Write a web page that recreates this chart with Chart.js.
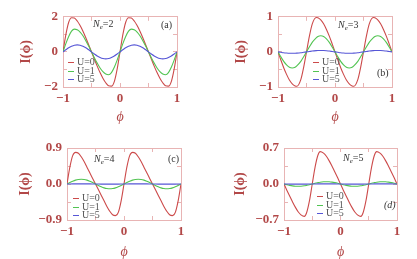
<!DOCTYPE html>
<html><head><meta charset="utf-8">
<script src="https://cdn.jsdelivr.net/npm/chart.js@4.4.1/dist/chart.umd.min.js"></script>
<style>
html,body{margin:0;padding:0;background:#fff;}
#wrap{position:relative;width:417px;height:259px;overflow:hidden;background:#fff;}
.pane{position:absolute;}
.pane canvas{display:block;}
.txt{position:absolute;font-family:"Liberation Serif","Times New Roman",serif;white-space:nowrap;line-height:1;color:#333;}
.leg{position:absolute;font-family:"Liberation Serif","Times New Roman",serif;font-size:10px;color:#555;}
.leg .row{height:8.5px;line-height:8.5px;position:relative;white-space:nowrap;}
.leg .sw{position:absolute;left:0;top:4px;width:6px;height:1.2px;}
.leg .lb{position:absolute;left:9px;top:0;}
sub{font-size:7px;vertical-align:-2px;line-height:0;}
</style></head><body><div id="wrap"></div>
<script>
// ---- data ----
const seriesNames = ['U=0','U=1','U=5'];
const xTicks = [-1,-0.5,0,0.5,1];
const xLabels = ['\u22121','','0','','1'];

const neValues = [2,3,4,5];
const panelTags = ['(a)','(b)','(c)','(d)'];

const yTicksA = [-2,-1,0,1,2];
const yLabelsA = ['\u22122','','0','','2'];
const yTicksB = [-1,-0.5,0,0.5,1];
const yLabelsB = ['\u22121','','0','','1'];
const yTicksC = [-0.9,-0.45,0,0.45,0.9];
const yLabelsC = ['\u22120.9','','0.0','','0.9'];
const yTicksD = [-0.7,-0.35,0,0.35,0.7];
const yLabelsD = ['\u22120.7','','0.0','','0.7'];

const phiA = [-1,-0.95,-0.9,-0.85,-0.8,-0.75,-0.7,-0.65,-0.6,-0.55,-0.5,-0.45,-0.4,-0.35,-0.3,-0.25,-0.2,-0.15,-0.1,-0.05,0,0.05,0.1,0.15,0.2,0.25,0.3,0.35,0.4,0.45,0.5,0.55,0.6,0.65,0.7,0.75,0.8,0.85,0.9,0.95,1];
const aU0 = [0,0.98,1.69,1.95,1.93,1.76,1.50,1.18,0.81,0.41,0,-0.41,-0.81,-1.18,-1.50,-1.76,-1.93,-1.95,-1.69,-0.98,0,0.98,1.69,1.95,1.93,1.76,1.50,1.18,0.81,0.41,0,-0.41,-0.81,-1.18,-1.50,-1.76,-1.93,-1.95,-1.69,-0.98,0];
const aU1 = [0,0.47,0.88,1.18,1.30,1.26,1.13,0.92,0.64,0.33,0,-0.33,-0.64,-0.92,-1.13,-1.26,-1.30,-1.18,-0.88,-0.47,0,0.47,0.88,1.18,1.30,1.26,1.13,0.92,0.64,0.33,0,-0.33,-0.64,-0.92,-1.13,-1.26,-1.30,-1.18,-0.88,-0.47,0];
const aU5 = [0,0.12,0.235,0.32,0.38,0.40,0.38,0.32,0.235,0.12,0,-0.12,-0.235,-0.32,-0.38,-0.40,-0.38,-0.32,-0.235,-0.12,0,0.12,0.235,0.32,0.38,0.40,0.38,0.32,0.235,0.12,0,-0.12,-0.235,-0.32,-0.38,-0.40,-0.38,-0.32,-0.235,-0.12,0];

const phiB = [-1,-0.95,-0.9,-0.85,-0.8,-0.75,-0.7,-0.67,-0.6,-0.55,-0.5,-0.45,-0.4,-0.33,-0.3,-0.25,-0.2,-0.15,-0.1,-0.05,0,0.05,0.1,0.15,0.2,0.25,0.3,0.33,0.4,0.45,0.5,0.55,0.6,0.67,0.7,0.75,0.8,0.85,0.9,0.95,1];
const bU0 = [0,-0.23,-0.45,-0.64,-0.80,-0.91,-0.97,-0.98,-0.79,-0.44,0,0.44,0.79,0.98,0.97,0.91,0.80,0.64,0.45,0.23,0,-0.23,-0.45,-0.64,-0.80,-0.91,-0.97,-0.98,-0.79,-0.44,0,0.44,0.79,0.98,0.97,0.91,0.80,0.64,0.45,0.23,0];
const bU1 = [0,-0.14,-0.27,-0.37,-0.44,-0.46,-0.44,-0.40,-0.27,-0.14,0,0.14,0.27,0.40,0.44,0.46,0.44,0.37,0.27,0.14,0,-0.14,-0.27,-0.37,-0.44,-0.46,-0.44,-0.40,-0.27,-0.14,0,0.14,0.27,0.40,0.44,0.46,0.44,0.37,0.27,0.14,0];
const bU5 = [0,-0.012,-0.024,-0.032,-0.038,-0.04,-0.038,-0.035,-0.024,-0.012,0,0.012,0.024,0.035,0.038,0.04,0.038,0.032,0.024,0.012,0,-0.012,-0.024,-0.032,-0.038,-0.04,-0.038,-0.035,-0.024,-0.012,0,0.012,0.024,0.035,0.038,0.04,0.038,0.032,0.024,0.012,0];

const phiC = [-1,-0.95,-0.9,-0.85,-0.8,-0.75,-0.7,-0.65,-0.6,-0.55,-0.5,-0.45,-0.4,-0.35,-0.3,-0.25,-0.2,-0.15,-0.1,-0.05,0,0.05,0.1,0.15,0.2,0.25,0.3,0.35,0.4,0.45,0.5,0.55,0.6,0.65,0.7,0.75,0.8,0.85,0.9,0.95,1];
const cU0 = [0,0.42,0.71,0.79,0.77,0.68,0.56,0.42,0.28,0.14,0,-0.14,-0.28,-0.42,-0.56,-0.68,-0.77,-0.79,-0.71,-0.42,0,0.42,0.71,0.79,0.77,0.68,0.56,0.42,0.28,0.14,0,-0.14,-0.28,-0.42,-0.56,-0.68,-0.77,-0.79,-0.71,-0.42,0];
const cU1 = [0,0.037,0.07,0.097,0.114,0.12,0.114,0.097,0.07,0.037,0,-0.037,-0.07,-0.097,-0.114,-0.12,-0.114,-0.097,-0.07,-0.037,0,0.037,0.07,0.097,0.114,0.12,0.114,0.097,0.07,0.037,0,-0.037,-0.07,-0.097,-0.114,-0.12,-0.114,-0.097,-0.07,-0.037,0];
const cU5 = [0,0.001,0.002,0.003,0.004,0.004,0.004,0.003,0.002,0.001,0,-0.001,-0.002,-0.003,-0.004,-0.004,-0.004,-0.003,-0.002,-0.001,0,0.001,0.002,0.003,0.004,0.004,0.004,0.003,0.002,0.001,0,-0.001,-0.002,-0.003,-0.004,-0.004,-0.004,-0.003,-0.002,-0.001,0];

const phiD = [-1,-0.95,-0.9,-0.85,-0.8,-0.75,-0.7,-0.64,-0.6,-0.55,-0.5,-0.45,-0.4,-0.36,-0.3,-0.25,-0.2,-0.15,-0.1,-0.05,0,0.05,0.1,0.15,0.2,0.25,0.3,0.36,0.4,0.45,0.5,0.55,0.6,0.64,0.7,0.75,0.8,0.85,0.9,0.95,1];
const dU0 = [0,-0.12,-0.235,-0.345,-0.45,-0.54,-0.60,-0.63,-0.56,-0.33,0,0.33,0.56,0.63,0.60,0.54,0.45,0.345,0.235,0.12,0,-0.12,-0.235,-0.345,-0.45,-0.54,-0.60,-0.63,-0.56,-0.33,0,0.33,0.56,0.63,0.60,0.54,0.45,0.345,0.235,0.12,0];
const dU1 = [0,-0.014,-0.026,-0.036,-0.043,-0.045,-0.043,-0.035,-0.026,-0.014,0,0.014,0.026,0.035,0.043,0.045,0.043,0.036,0.026,0.014,0,-0.014,-0.026,-0.036,-0.043,-0.045,-0.043,-0.035,-0.026,-0.014,0,0.014,0.026,0.035,0.043,0.045,0.043,0.036,0.026,0.014,0];
const dU5 = [0,-0.001,-0.002,-0.002,-0.003,-0.003,-0.003,-0.002,-0.002,-0.001,0,0.001,0.002,0.002,0.003,0.003,0.003,0.002,0.002,0.001,0,-0.001,-0.002,-0.002,-0.003,-0.003,-0.003,-0.002,-0.002,-0.001,0,0.001,0.002,0.002,0.003,0.003,0.003,0.002,0.002,0.001,0];

// ---- styling ----
const colors = ['#cc4a4a','#52c452','#5656d6'];
const frameColor = '#e8b4b4';
const axisTextColor = '#b24848';
const SERIF = '"Liberation Serif","Times New Roman",serif';

const wrap = document.getElementById('wrap');

const panels = [
  {left:0,top:0,w:208,h:130,yW:63,padRight:31,padTop:16,xH:43,yTitlePad:17.6,xTitlePad:5.5,
   phi:phiA,series:[aU0,aU1,aU5],yTicks:yTicksA,yLabels:yLabelsA,
   legend:{x:68,y:58},ne:{x:93,y:19},tag:{x:161,y:20}},
  {left:208,top:0,w:209,h:130,yW:70,padRight:25,padTop:16,xH:43,yTitlePad:24.6,xTitlePad:5.5,
   phi:phiB,series:[bU0,bU1,bU5],yTicks:yTicksB,yLabels:yLabelsB,
   legend:{x:313,y:58},ne:{x:338,y:20},tag:{x:377,y:68}},
  {left:0,top:130,w:208,h:129,yW:67,padRight:27,padTop:18,xH:39,yTitlePad:16.6,xTitlePad:0,
   phi:phiC,series:[cU0,cU1,cU5],yTicks:yTicksC,yLabels:yLabelsC,
   legend:{x:73,y:194},ne:{x:94,y:154},tag:{x:168,y:154}},
  {left:208,top:130,w:209,h:129,yW:76,padRight:20,padTop:18,xH:39,yTitlePad:23.6,xTitlePad:0,
   phi:phiD,series:[dU0,dU1,dU5],yTicks:yTicksD,yLabels:yLabelsD,
   legend:{x:317,y:192},ne:{x:343,y:153},tag:{x:384,y:200}}
];

function frameAxis(axisPos, min, max, ticksArr, extra) {
  const isX = axisPos === 'top' || axisPos === 'bottom';
  return Object.assign({
    type:'linear', position:axisPos, min:min, max:max,
    afterBuildTicks: s => { s.ticks = ticksArr.map(v => ({value:v})); },
    grid:{drawOnChartArea:false, drawTicks:true, tickLength:-4, color:frameColor, lineWidth:1},
    border:{display:true, color:frameColor, width:1},
    ticks:{display:false, autoSkip:false, maxRotation:0}
  }, extra || {});
}

panels.forEach((p, idx) => {
  const div = document.createElement('div');
  div.className = 'pane';
  div.style.left = p.left + 'px';
  div.style.top = p.top + 'px';
  const cv = document.createElement('canvas');
  cv.width = p.w; cv.height = p.h;
  cv.style.width = p.w + 'px'; cv.style.height = p.h + 'px';
  div.appendChild(cv);
  wrap.appendChild(div);

  const ymin = p.yTicks[0], ymax = p.yTicks[p.yTicks.length - 1];
  const datasets = seriesNames.map((name, k) => ({
    label: name,
    data: p.phi.map((x, i) => ({x: x, y: p.series[k][i]})),
    borderColor: colors[k],
    backgroundColor: colors[k],
    borderWidth: 1.1,
    pointRadius: 0,
    fill: false,
    cubicInterpolationMode: 'monotone',
    order: 3 - k
  }));

  new Chart(cv, {
    type: 'line',
    data: {datasets},
    options: {
      responsive: false, animation: false, devicePixelRatio: 1,
      layout: {padding: {left:0, top:p.padTop, right:p.padRight, bottom:0}},
      plugins: {legend:{display:false}, tooltip:{enabled:false}},
      scales: {
        x: frameAxis('bottom', -1, 1, xTicks, {
          afterFit: s => { s.height = p.xH; },
          ticks: {display:true, autoSkip:false, maxRotation:0, padding:8, color:axisTextColor,
                  font:{family:SERIF, size:13, weight:'bold', lineHeight:1.2},
                  callback: (v, i) => xLabels[i]},
          title: {display:true, text:'\u03d5', color:axisTextColor,
                  font:{family:SERIF, size:14, style:'italic', lineHeight:1},
                  padding:{top:0, bottom:p.xTitlePad}}
        }),
        x2: frameAxis('top', -1, 1, xTicks, {afterFit: s => { s.height = 0; }}),
        y: frameAxis('left', ymin, ymax, p.yTicks, {
          afterFit: s => { s.width = p.yW; },
          ticks: {display:true, autoSkip:false, padding:9, color:axisTextColor,
                  font:{family:SERIF, size:13, weight:'bold', lineHeight:1.2},
                  callback: (v, i) => p.yLabels[i]},
          title: {display:true, text:'I(\u03d5)', color:axisTextColor,
                  font:{family:SERIF, size:14, weight:'bold', lineHeight:1.2},
                  padding:{top:p.yTitlePad, bottom:0}}
        }),
        y2: frameAxis('right', ymin, ymax, p.yTicks, {afterFit: s => { s.width = 0; }})
      }
    }
  });

  // legend (built from the datasets)
  const leg = document.createElement('div');
  leg.className = 'leg';
  leg.style.left = p.legend.x + 'px';
  leg.style.top = p.legend.y + 'px';
  datasets.forEach(ds => {
    const row = document.createElement('div');
    row.className = 'row';
    const sw = document.createElement('span'); sw.className = 'sw'; sw.style.background = ds.borderColor;
    const lb = document.createElement('span'); lb.className = 'lb'; lb.textContent = ds.label;
    row.appendChild(sw); row.appendChild(lb); leg.appendChild(row);
  });
  wrap.appendChild(leg);

  const ne = document.createElement('div');
  ne.className = 'txt';
  ne.style.left = p.ne.x + 'px'; ne.style.top = p.ne.y + 'px'; ne.style.fontSize = '10px';
  ne.innerHTML = '<i>N</i><sub><i>e</i></sub>=' + neValues[idx];
  wrap.appendChild(ne);

  const tg = document.createElement('div');
  tg.className = 'txt';
  tg.style.left = p.tag.x + 'px'; tg.style.top = p.tag.y + 'px'; tg.style.fontSize = '10px';
  tg.style.fontStyle = idx === 3 ? 'italic' : 'normal';
  tg.textContent = panelTags[idx];
  wrap.appendChild(tg);
});
</script>
</body></html>
